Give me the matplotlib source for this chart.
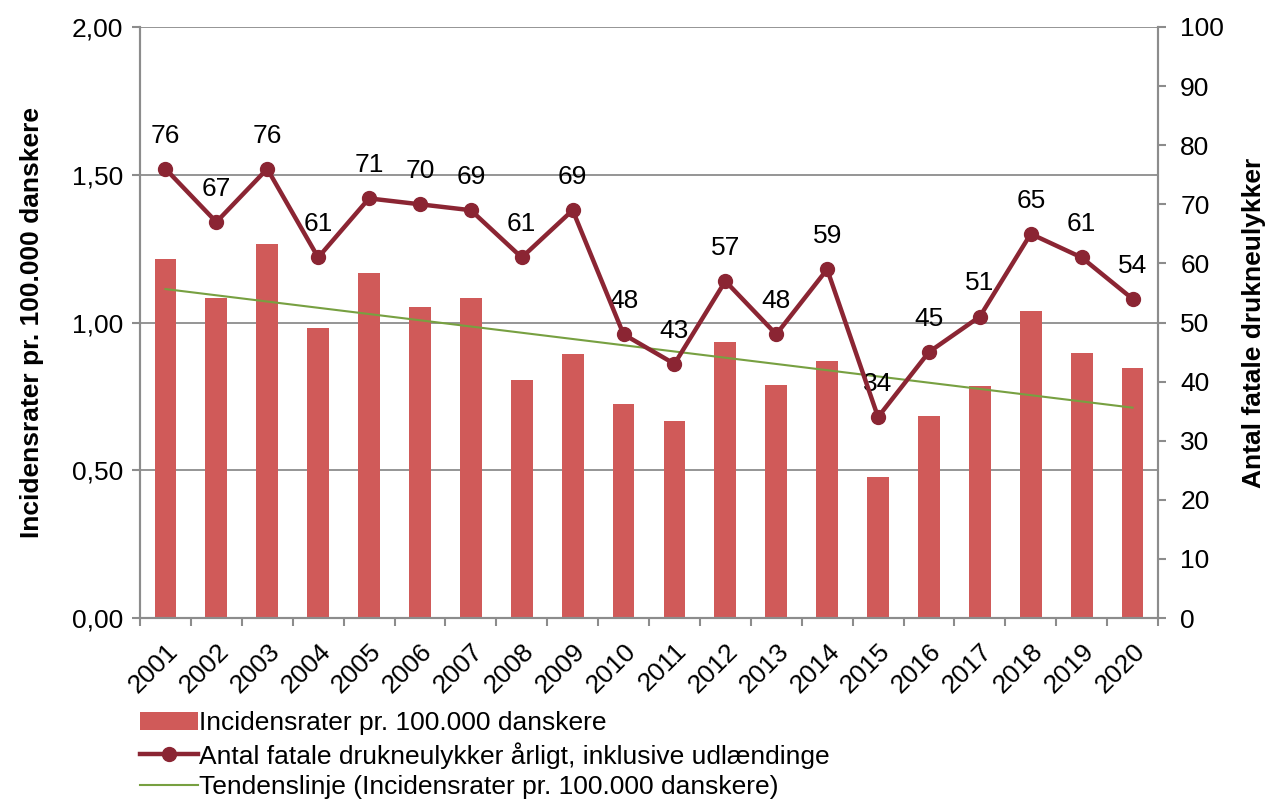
import matplotlib.pyplot as plt
import numpy as np
from matplotlib.ticker import FuncFormatter

plt.rcParams['font.family'] = ['Liberation Sans', 'DejaVu Sans']

years = ['2001', '2002', '2003', '2004', '2005', '2006', '2007', '2008', '2009', '2010',
         '2011', '2012', '2013', '2014', '2015', '2016', '2017', '2018', '2019', '2020']
incidens = [1.215, 1.082, 1.264, 0.983, 1.166, 1.051, 1.084, 0.804, 0.892, 0.724,
            0.667, 0.933, 0.787, 0.870, 0.478, 0.684, 0.784, 1.040, 0.897, 0.845]
fatale = [76, 67, 76, 61, 71, 70, 69, 61, 69, 48,
          43, 57, 48, 59, 34, 45, 51, 65, 61, 54]

BAR_COLOR = '#D05A59'
LINE_COLOR = '#8B2533'
TREND_COLOR = '#77A041'
GRID = '#8C8C8C'
FS = 19

x = np.arange(len(years))

fig = plt.figure(figsize=(12.76, 8), dpi=100)
ax = fig.add_axes([140 / 1276, 182 / 800, 1018 / 1276, 591 / 800])
ax2 = ax.twinx()

bars = ax.bar(x, incidens, width=0.43, color=BAR_COLOR, zorder=2,
              label='Incidensrater pr. 100.000 danskere')

# lineær tendenslinje for incidensraterne
k, m = np.polyfit(x, incidens, 1)
trend, = ax.plot(x, k * x + m, color=TREND_COLOR, lw=1.5, zorder=3,
                 label='Tendenslinje (Incidensrater pr. 100.000 danskere)')

line, = ax2.plot(x, fatale, color=LINE_COLOR, lw=3.2, marker='o', markersize=10,
                 zorder=4, label='Antal fatale drukneulykker årligt, inklusive udlændinge')
for xi, v in zip(x, fatale):
    ax2.annotate(str(v), (xi, v), xytext=(0, 24), textcoords='offset points',
                 ha='center', va='center', fontsize=FS)

ax.set_xlim(-0.5, len(years) - 0.5)
ax.set_ylim(0, 2)
ax2.set_ylim(0, 100)
ax.set_yticks([0, 0.5, 1.0, 1.5, 2.0])
ax.yaxis.set_major_formatter(FuncFormatter(lambda v, p: f'{v:.2f}'.replace('.', ',')))
ax2.set_yticks(range(0, 101, 10))

ax.set_xticks(x)
ax.set_xticklabels(years, rotation=45, ha='right', rotation_mode='anchor', fontsize=FS)
ax.set_xticks(np.arange(-0.5, len(years)), minor=True)
ax.tick_params(axis='x', which='major', length=0, pad=15)
ax.tick_params(axis='x', which='minor', length=6, color=GRID, width=1.5)
ax.tick_params(axis='y', labelsize=FS, length=6, color=GRID, width=1.5, pad=6)
ax2.tick_params(axis='y', labelsize=FS, length=6, color=GRID, width=1.5, pad=10)

ax.grid(axis='y', color=GRID, lw=1.3, zorder=0)
ax.set_axisbelow(True)

for a in (ax, ax2):
    a.spines['top'].set_visible(False)
    for s in ('left', 'right', 'bottom'):
        a.spines[s].set_color(GRID)
        a.spines[s].set_linewidth(1.5)

ax.set_ylabel('Incidensrater pr. 100.000 danskere', fontsize=FS, fontweight='bold', labelpad=20)
ax2.set_ylabel('Antal fatale drukneulykker', fontsize=FS, fontweight='bold', labelpad=13)

fig.legend(handles=[bars, line, trend], loc='upper left', bbox_to_anchor=(140 / 1276, 1 - 711 / 800),
           frameon=False, fontsize=FS, handlelength=2.2, handletextpad=0.05,
           labelspacing=0.26, borderaxespad=0, borderpad=0)

fig.savefig('out.png', dpi=100)
